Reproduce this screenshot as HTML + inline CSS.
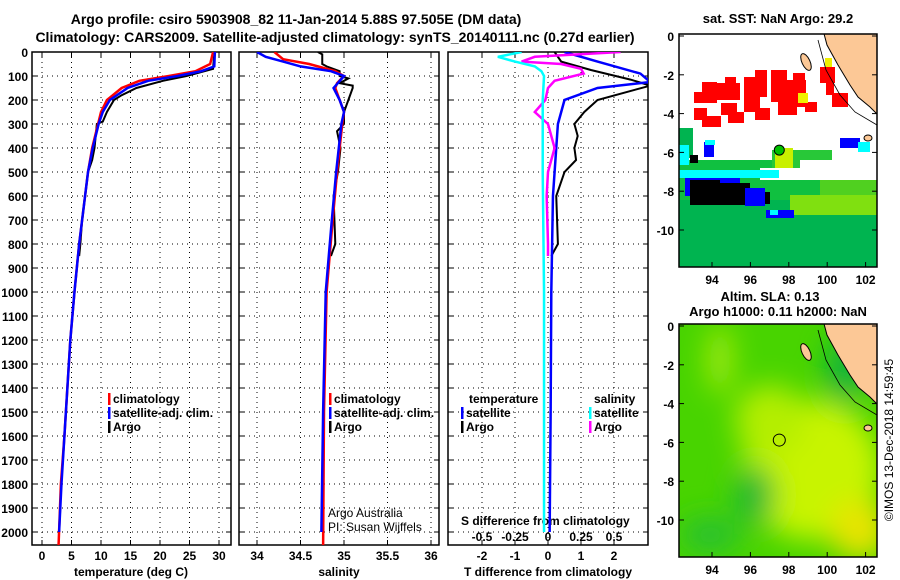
<!DOCTYPE html>
<html><head><meta charset="utf-8"><style>
body{margin:0;background:#fff}
svg{display:block;font-family:"Liberation Sans",sans-serif}
.t{font-weight:bold;font-size:13px}
.tk{font-weight:bold;font-size:12px}
</style></head><body>
<svg id="c" width="900" height="580" viewBox="0 0 900 580">
<defs><filter id="bl" x="-50%" y="-50%" width="200%" height="200%"><feGaussianBlur stdDeviation="14"/></filter>
<clipPath id="m1c"><rect x="679" y="34" width="198" height="233"/></clipPath>
<clipPath id="m2c"><rect x="679" y="324" width="198" height="233"/></clipPath>
<clipPath id="p1c"><rect x="32" y="52" width="199" height="493"/></clipPath>
<clipPath id="p2c"><rect x="239" y="52" width="200" height="493"/></clipPath>
<clipPath id="p3c"><rect x="448" y="52" width="200" height="493"/></clipPath></defs>
<text x="296" y="24" text-anchor="middle" font-size="14" font-weight="bold">Argo profile: csiro 5903908_82 11-Jan-2014 5.88S 97.505E (DM data)</text>
<text x="335" y="42" text-anchor="middle" font-size="14" font-weight="bold">Climatology: CARS2009. Satellite-adjusted climatology: synTS_20140111.nc (0.27d earlier)</text>
<text class="t" x="778" y="23" text-anchor="middle">sat. SST: NaN Argo: 29.2</text>
<text class="t" x="770" y="301" text-anchor="middle">Altim. SLA: 0.13</text>
<text class="t" x="778" y="316" text-anchor="middle">Argo h1000: 0.11 h2000: NaN</text>
<text x="893" y="440" font-size="12" text-anchor="middle" transform="rotate(-90 893 440)">©IMOS 13-Dec-2018 14:59:45</text>
<g id="g"></g>
</svg>
<script>
// ---- data ----
const depthTicks=[0,100,200,300,400,500,600,700,800,900,1000,1100,1200,1300,1400,1500,1600,1700,1800,1900,2000];
const tempTicks=[0,5,10,15,20,25,30];
const salTicks=[34,34.5,35,35.5,36];
const tdiffTicks=[-2,-1,0,1,2];
const sdiffTicks=[-0.5,-0.25,0,0.25,0.5];
const tClimD=[0,50,80,100,120,150,200,250,300,400,500,600,700,800,1000,1200,1400,1600,1800,2060];
const tClimV=[29,28.5,26,21.5,16.5,13.5,11,10,9.5,8.5,7.8,7.3,6.8,6.3,5.5,4.8,4.3,3.8,3.2,2.8];
const tSatD=[0,60,80,100,120,150,200,250,300,400,500,600,700,800,1000,1200,1400,1600,1800,2000];
const tSatV=[29.3,29.2,27,23,18,14.5,11.5,10.3,9.6,8.6,7.8,7.3,6.8,6.3,5.5,4.8,4.3,3.8,3.3,2.9];
const tArgoD=[0,70,100,120,150,180,200,250,290,300,400,450,500,600,700,800,850];
const tArgoV=[29.2,29,24.5,20.5,16,13.5,12.2,11,10.3,9.3,8.9,8.5,7.8,7.3,6.8,6.5,6.3];
const sClimD=[0,30,50,80,100,130,150,200,250,300,500,700,1000,1500,2060];
const sClimV=[34.2,34.3,34.6,34.9,35.0,34.92,34.9,34.95,35.0,34.98,34.92,34.87,34.8,34.77,34.76];
const sSatD=[0,20,40,60,80,100,150,200,250,300,500,700,1000,1500,2000];
const sSatV=[34.0,34.1,34.3,34.5,34.85,35.0,34.88,34.95,35.0,34.97,34.91,34.86,34.79,34.76,34.74];
const sArgoD=[0,10,50,60,80,100,110,130,140,150,200,250,300,330,400,500,600,800,850];
const sArgoV=[34.7,34.75,34.75,34.8,34.95,34.95,35.05,34.95,35.1,35.1,35.05,35.0,35.0,34.92,34.96,34.93,34.88,34.9,34.85];
const dtSatD=[0,40,90,125,150,200,300,400,600,1000,1500,2000];
const dtSatV=[0.5,1.5,2.8,3.1,1.5,0.5,0.3,0.25,0.15,0.1,0.08,0.05];
const dtArgoD=[0,40,75,115,140,200,250,300,350,400,450,500,600,800,850];
const dtArgoV=[0.2,0.4,1.3,2.5,3.1,1.5,1.1,0.8,0.9,0.8,0.85,0.5,0.25,0.3,0.1];
const dsSatD=[0,20,40,60,80,100,200,500,1000,1500,2000];
const dsSatV=[-0.2,-0.38,-0.25,-0.1,-0.05,-0.03,-0.04,-0.04,-0.03,-0.03,-0.03];
const dsArgoD=[0,20,40,50,70,90,120,150,200,250,300,400,500,600,800,850];
const dsArgoV=[0.55,-0.1,-0.2,0.1,0.25,0.27,0.05,0.0,-0.02,-0.1,0.0,0.05,0.0,-0.01,0.0,0.0];
// ---- helpers ----
const NS="http://www.w3.org/2000/svg",G=document.getElementById('g');
function el(t,a,p){const e=document.createElementNS(NS,t);for(const k in a)e.setAttribute(k,a[k]);(p||G).appendChild(e);return e;}
const Y=d=>52+d*0.24;
const X1=v=>42+v*5.9, X2=v=>257+(v-34)*87, X3=v=>548+v*33, XS=v=>548+v*132;
function frame(x0,x1,name,xs,tickVals,tickFmt){
  const g=el('g',{});
  depthTicks.forEach(d=>{const l=el('line',{x1:x0,x2:x1,y1:Y(d),y2:Y(d),stroke:'#000','stroke-dasharray':'1 4'},g);
    el('line',{x1:x0,x2:x0+5,y1:Y(d),y2:Y(d),stroke:'#000'},g);el('line',{x1:x1-5,x2:x1,y1:Y(d),y2:Y(d),stroke:'#000'},g);});
  tickVals.forEach(v=>{const x=xs(v);el('line',{x1:x,x2:x,y1:52,y2:545,stroke:'#000','stroke-dasharray':'1 4'},g);
    el('line',{x1:x,x2:x,y1:540,y2:545,stroke:'#000'},g);el('line',{x1:x,x2:x,y1:52,y2:57,stroke:'#000'},g);
    const t=el('text',{x:x,y:560,'text-anchor':'middle',class:'tk'},g);t.textContent=tickFmt(v);
    });
  el('rect',{x:x0,y:52,width:x1-x0,height:493,fill:'none',stroke:'#000','stroke-width':1.5},g);
  return g;
}
function line(D,V,xs,col,w,clip,name){
  const p=el('polyline',{points:D.map((d,i)=>xs(V[i])+','+Y(d)).join(' '),fill:'none',stroke:col,'stroke-width':w,'clip-path':'url(#'+clip+')'});
  
}
function txt(x,y,s,name,cls,extra){const t=el('text',Object.assign({x:x,y:y,class:cls||'tk'},extra||{}));t.textContent=s;return t;}
depthTicks.forEach(d=>{txt(28,Y(d)+5,String(d),'y-tick-label','tk',{'text-anchor':'end'});});
frame(32,231,'temperature-panel',X1,tempTicks,v=>String(v));
frame(239,439,'salinity-panel',X2,salTicks,v=>String(v));
frame(448,648,'difference-panel',X3,tdiffTicks,v=>String(v));
txt(131,576,'temperature (deg C)','temperature-axis-title','tk',{'text-anchor':'middle'});
txt(339,576,'salinity','salinity-axis-title','tk',{'text-anchor':'middle'});
txt(548,576,'T difference from climatology','tdiff-axis-title','tk',{'text-anchor':'middle'});
txt(461,525,'S difference from climatology','sdiff-axis-title','tk');
sdiffTicks.forEach(v=>txt(XS(v),541,String(v),'sdiff-tick-label','tk',{'text-anchor':'middle'}));
line(tArgoD,tArgoV,X1,'#000',2,'p1c','temp-argo-line');
line(tClimD,tClimV,X1,'#f00',2.5,'p1c','temp-climatology-line');
line(tSatD,tSatV,X1,'#00f',2.5,'p1c','temp-satellite-line');
line(sArgoD,sArgoV,X2,'#000',2,'p2c','sal-argo-line');
line(sClimD,sClimV,X2,'#f00',2.5,'p2c','sal-climatology-line');
line(sSatD,sSatV,X2,'#00f',2.5,'p2c','sal-satellite-line');
line(dtArgoD,dtArgoV,X3,'#000',2,'p3c','tdiff-argo-line');
line(dtSatD,dtSatV,X3,'#00f',2.5,'p3c','tdiff-satellite-line');
line(dsArgoD,dsArgoV,XS,'#f0f',2.5,'p3c','sdiff-argo-line');
line(dsSatD,dsSatV,XS,'#0ff',2.5,'p3c','sdiff-satellite-line');
function leg(x,y,col,s,name){el('rect',{x:x,y:y-10,width:2.5,height:12,fill:col});txt(x+5,y,s,name);}
[[108,'#f00','climatology'],[108,'#00f','satellite-adj. clim.'],[108,'#000','Argo']].forEach((r,i)=>leg(r[0],403+i*14,r[1],r[2],'temp-legend-entry'));
[[329,'#f00','climatology'],[329,'#00f','satellite-adj. clim.'],[329,'#000','Argo']].forEach((r,i)=>leg(r[0],403+i*14,r[1],r[2],'sal-legend-entry'));
txt(469,403,'temperature','diff-legend-temp-heading');txt(594,403,'salinity','diff-legend-sal-heading');
leg(461,417,'#00f','satellite','diff-legend-entry');leg(461,431,'#000','Argo','diff-legend-entry');
leg(589,417,'#0ff','satellite','diff-legend-entry');leg(589,431,'#f0f','Argo','diff-legend-entry');
txt(328,517,'Argo Australia','credit-line-1',' ',{'font-size':'12'});
txt(328,531,'PI: Susan Wijffels','credit-line-2',' ',{'font-size':'12'});
const lonTicks=[94,96,98,100,102], latTicks=[0,-2,-4,-6,-8,-10];
const LX=l=>712+(l-94)*19.2;
function mapFrame(y0,name){
  const LY=l=>y0+2-l*19.4;
  const g=el('g',{});
  el('rect',{x:679,y:y0,width:198,height:233,fill:'none',stroke:'#000','stroke-width':1.5},g);
  lonTicks.forEach(l=>{el('line',{x1:LX(l),x2:LX(l),y1:y0+228,y2:y0+233,stroke:'#000'},g);txt(LX(l),y0+250,String(l),'map-lon-label','tk',{'text-anchor':'middle'});});
  latTicks.forEach(l=>{el('line',{x1:679,x2:684,y1:LY(l),y2:LY(l),stroke:'#000'},g);el('line',{x1:872,x2:877,y1:LY(l),y2:LY(l),stroke:'#000'},g);txt(674,LY(l)+5,String(l),'map-lat-label','tk',{'text-anchor':'end'});});
  return LY;
}
function land(dy,clip){
  el('polygon',{points:`823,${30+dy} 880,${30+dy} 880,${117+dy} 870,${107+dy} 858,${97+dy} 850,${85+dy} 838,${65+dy} 827,${45+dy}`,fill:'#fcc896',stroke:'#000','stroke-width':1,'clip-path':'url(#'+clip+')'});
  el('polyline',{points:`818,${40+dy} 826,${70+dy} 840,${95+dy} 855,${112+dy} 877,${125+dy}`,fill:'none',stroke:'#000','stroke-width':0.8,'clip-path':'url(#'+clip+')'});
  el('ellipse',{cx:806,cy:62+dy,rx:4,ry:9,fill:'#fcc896',stroke:'#000','transform':`rotate(-25 806 ${62+dy})`});
  el('ellipse',{cx:868,cy:138+dy,rx:4,ry:3,fill:'#fcc896',stroke:'#000'});
}
const m1=el('g',{'clip-path':'url(#m1c)'});
el('rect',{x:679,y:34,width:198,height:233,fill:'#fff'},m1);
el('rect',{x:679,y:195,width:198,height:72,fill:'#00b450'},m1);
el('rect',{x:679,y:160,width:198,height:40,fill:'#10c040'},m1);
el('rect',{x:772,y:150,width:60,height:25,fill:'#28c838'},m1);
el('rect',{x:775,y:148,width:18,height:20,fill:'#c8f000'},m1);
el('rect',{x:820,y:180,width:57,height:15,fill:'#50d020'},m1);
el('rect',{x:790,y:195,width:87,height:20,fill:'#80e010'},m1);
el('rect',{x:679,y:128,width:14,height:30,fill:'#00b450'},m1);
el('rect',{x:800,y:160,width:77,height:20,fill:'#fff'},m1);
el('rect',{x:760,y:168,width:40,height:12,fill:'#fff'},m1);
[[679,170,100,8,'#0ff'],[685,178,55,18,'#00f'],[690,180,30,25,'#000'],[720,183,30,22,'#000'],[730,192,40,12,'#000'],[745,188,20,18,'#00f'],[679,145,10,20,'#0ff'],[704,142,10,15,'#00f'],[705,140,10,5,'#0ff'],[690,155,8,8,'#000'],[840,138,20,10,'#00f'],[858,142,12,10,'#0ff'],[766,210,28,8,'#00f'],[770,210,8,5,'#0ff']].forEach(r=>el('rect',{x:r[0],y:r[1],width:r[2],height:r[3],fill:r[4]},m1));
[[702,82,15,21],[694,92,13,11],[694,108,13,12],[702,116,19,11],[717,83,23,17],[725,77,11,8],[721,103,16,12],[728,112,16,11],[744,77,23,20],[755,70,12,7],[744,95,16,17],[755,108,15,12],[771,70,16,32],[778,100,19,15],[787,80,19,27],[793,73,12,15],[805,102,12,10],[820,67,15,16],[832,93,16,14],[826,83,8,12]].forEach(r=>el('rect',{x:r[0],y:r[1],width:r[2],height:r[3],fill:'#f00'},m1));
el('rect',{x:798,y:93,width:10,height:10,fill:'#f0f000'},m1);el('rect',{x:825,y:58,width:7,height:9,fill:'#f0f000'},m1);
land(0,'m1c');
const LY1=mapFrame(34,'sst-map-frame');
el('circle',{cx:LX(97.505),cy:LY1(-5.88),r:5,fill:'#00c000',stroke:'#000','stroke-width':1});
const m2=el('g',{'clip-path':'url(#m2c)'});
el('rect',{x:679,y:324,width:198,height:233,fill:'#48d400'},m2);
const bl=el('g',{filter:'url(#bl)'},m2);
el('ellipse',{cx:812,cy:470,rx:70,ry:70,fill:'#c8f400'},bl);
el('ellipse',{cx:860,cy:530,rx:30,ry:30,fill:'#e8e400'},bl);
el('ellipse',{cx:770,cy:420,rx:35,ry:35,fill:'#b4ee00'},bl);
el('ellipse',{cx:755,cy:495,rx:20,ry:30,fill:'#20b838'},bl);
el('ellipse',{cx:710,cy:535,rx:30,ry:18,fill:'#28c030'},bl);
el('ellipse',{cx:720,cy:360,rx:12,ry:35,fill:'#a8ec10'},bl);
el('ellipse',{cx:845,cy:370,rx:18,ry:35,fill:'#10b040'},bl);
land(290,'m2c');
const LY2=mapFrame(324,'sla-map-frame');
el('circle',{cx:LX(97.505),cy:LY2(-5.88),r:6,fill:'none',stroke:'#000','stroke-width':1});
</script>
</body></html>
